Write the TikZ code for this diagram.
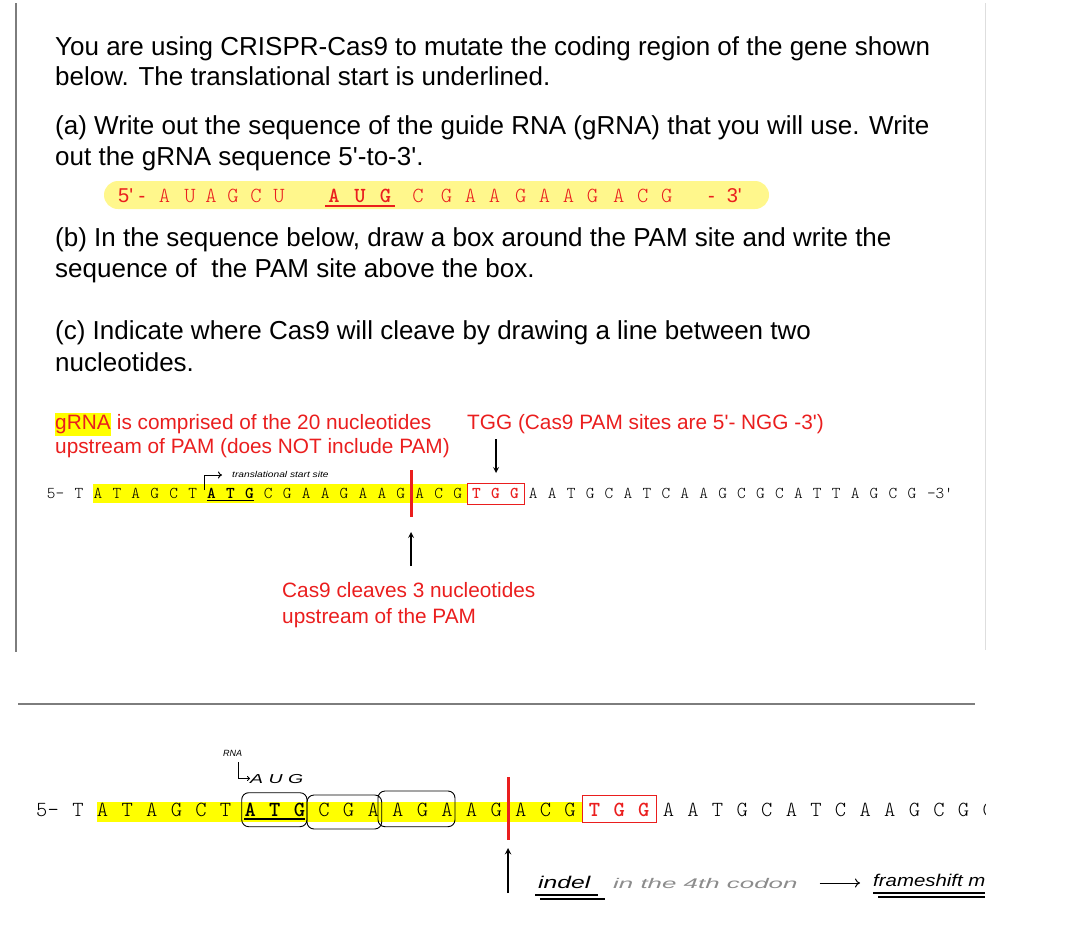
\documentclass[tikz,border=0pt]{standalone}
\usepackage{fontspec}
\setmainfont{Liberation Sans}
\newfontfamily\seqfont{lmmonolt10-regular.otf}[BoldFont=lmmonolt10-bold.otf]
\usetikzlibrary{arrows.meta}
\definecolor{txtred}{RGB}{234,30,30}
\definecolor{hiyel}{RGB}{255,255,0}
\definecolor{pillyel}{RGB}{255,247,140}
\definecolor{framegray}{RGB}{125,125,125}
\definecolor{framelight}{RGB}{222,222,222}
\newcommand\sq{\textquotesingle}
\newcommand\startnt[1]{\textbf{#1}}
\newcommand\pamnt[1]{\textcolor{txtred}{\textbf{#1}}}
\newcommand\wide[2]{\scalebox{#1}[1]{#2}}
\tikzset{
  qline/.style={anchor=base west,inner sep=0,font=\fontsize{26}{30}\selectfont},
  note/.style={anchor=base west,inner sep=0,text=txtred,font=\fontsize{20.8}{24}\selectfont},
  nt/.style={anchor=base,inner sep=0,font=\seqfont\fontsize{16.5}{17}\selectfont},
  ntbig/.style={anchor=base,inner sep=0,font=\seqfont\fontsize{21.5}{22}\selectfont},
  ntpill/.style={anchor=base,inner sep=0,text=txtred,font=\seqfont\fontsize{21.5}{21}\selectfont},
  hand/.style={anchor=base west,inner sep=0,font=\itshape},
  cutline/.style={txtred,line width=3pt},
  codon/.style={draw,rounded corners=7pt,line width=0.9pt},
}
\begin{document}
\begin{tikzpicture}[x=1pt,y=-1pt,>=stealth]
\useasboundingbox (0,0) rectangle (1072,945);
% page frame
\draw[framegray,line width=2pt] (15.7,3) -- (15.7,652);
\draw[framelight,line width=1pt] (985,3) -- (985,650);
\draw[framegray,line width=2pt] (18,704) -- (975,704);

% question
\node[qline] (qa1) at (55,55) {You are using CRISPR-Cas9 to mutate the coding region of the gene shown};
\node[qline] (qa2) at (55,85) {below. The translational start is underlined.};
\node[qline] (qb1) at (55,134) {(a) Write out the sequence of the guide RNA (gRNA) that you will use. Write};
\node[qline] (qb2) at (55,165) {out the gRNA sequence 5\sq-to-3\sq.};
\node[qline] (qc1) at (55,246) {(b) In the sequence below, draw a box around the PAM site and write the};
\node[qline] (qc2) at (55,277) {sequence of \ the PAM site above the box.};
\node[qline] (qd1) at (55,339) {(c) Indicate where Cas9 will cleave by drawing a line between two};
\node[qline] (qd2) at (55,371) {nucleotides.};

% gRNA answer
\fill[pillyel,rounded corners=14pt] (104,181) rectangle (769,209);
\node[note,font=\fontsize{20}{20}\selectfont] (p5) at (118,202) {5\sq\ -};
\foreach \x/\b in {164.5/A,190/U,211/A,233/G,256/C,279/U,334/\startnt A,360/\startnt U,385.5/\startnt G,
                   418/C,446.5/G,470.5/A,494.5/A,520.7/G,544.6/A,568.6/A,592.6/G,618.7/A,642.7/C,666.7/G}
  \node[ntpill] (r\x) at (\x,202) {\b};
\draw[txtred,line width=1.2pt] (325,206) -- (395,206);
\node[note,font=\fontsize{20}{20}\selectfont] (p3) at (708,202) {-\hspace{12pt}3\sq};

% notes
\node[note,fill=hiyel,inner ysep=2pt] (gr) at (55,429.5) {gRNA};
\node[note] (n1) at ([xshift=5.8pt]gr.base east) {is comprised of the 20 nucleotides};
\node[note] (n2) at (55,453.5) {upstream of PAM (does NOT include PAM)};
\node[note] (pam) at (467,429.5) {TGG (Cas9 PAM sites are 5\sq- NGG -3\sq)};
\node[note] (cl1) at (282,597.5) {Cas9 cleaves 3 nucleotides};
\node[note] (cl2) at (282,623.5) {upstream of the PAM};

% sequence with PAM
\fill[hiyel] (93,484) rectangle (467.7,503);
\node[nt] (s5) at (55.5,498) {5-};
\foreach \b [count=\i from 0] in {T,A,T,A,G,C,T,\startnt A,\startnt T,\startnt G,C,G,A,A,G,A,A,G,A,C,G,
    \pamnt T,\pamnt G,\pamnt G,A,A,T,G,C,A,T,C,A,A,G,C,G,C,A,T,T,A,G,C,G}
  \node[nt] (s\i) at ({79+18.93*\i},498) {\b};
\node[nt] (s3) at (940,498) {-3\sq};
\draw[line width=1.1pt] ([yshift=-2.5pt]s7.base west) -- ([yshift=-2.5pt]s9.base east);
\draw[txtred,line width=0.8pt] (467.7,483) rectangle (524,504);
\coordinate (pamtop) at (496,439);
\coordinate (pamlow) at (496,473);
\draw[->,line width=1.6pt] (pamtop) -- (pamlow);
\draw[cutline] (411,470) -- (411,517);
\coordinate (cuttip) at (411,532);
\coordinate (cuttail) at (411,566);
\draw[->,line width=1.6pt] (cuttail) -- (cuttip);
\draw[-{To[length=4pt,width=7pt]},line width=1pt] (204,490) |- (222,475);
\node[hand,font=\itshape\fontsize{8.5}{8.5}\selectfont] (tss) at (232,477) {\wide{1.2}{translational start site}};

% worked answer
\begin{scope}
\clip (0,720) rectangle (985,945);
\fill[hiyel] (96.7,801.7) rectangle (582.5,821.7);
\node[ntbig] (b5) at (47.5,816) {5-};
\foreach \b [count=\i from 0] in {T,A,T,A,G,C,T,\startnt A,\startnt T,\startnt G,C,G,A,A,G,A,A,G,A,C,G,
    \pamnt T,\pamnt G,\pamnt G,A,A,T,G,C,A,T,C,A,A,G,C,G,C}
  \node[ntbig] (b\i) at ({78+24.6*\i},816) {\b};
\draw[line width=1.3pt] ([yshift=-3pt]b7.base west) -- ([yshift=-3pt]b9.base east);
\draw[txtred,line width=0.9pt] (582.5,795) rectangle (656,822);
\draw[codon] (241.7,792.7) rectangle (307,826.7);
\draw[codon] (307,795) rectangle (381.7,829);
\draw[codon] (378,791) rectangle (455,826.7);
\draw[cutline] (508,777) -- (508,840);
\coordinate (btip) at (508,848);
\coordinate (btail) at (508,893);
\draw[->,line width=1.8pt] (btail) -- (btip);
\node[hand,font=\itshape\fontsize{9}{9}\selectfont] (rna) at (223,756) {RNA};
\node[hand,font=\itshape\fontsize{13}{13}\selectfont] (aug) at (250,783) {\wide{1.5}{A U G}};
\draw[-{To[length=3pt,width=5pt]},line width=0.8pt] (238,762) |- (aug.west);
\node[hand,font=\itshape\fontsize{17}{17}\selectfont] (indel) at (538,888) {\wide{1.45}{indel}};
\draw[line width=1.2pt] (535,895) -- (598,895);
\draw[line width=1.2pt] (540,899) -- (605,899);
\node[hand,text=black!45,font=\itshape\fontsize{14}{14}\selectfont] (cod4) at (613,888) {\wide{1.85}{in the 4th codon}};
\node[hand,font=\itshape\fontsize{17}{17}\selectfont] (fs) at (873,886) {\wide{1.2}{frameshift m}};
\draw[-{To[length=5pt,width=9pt]},line width=1pt,shorten <=22pt] (cod4.east) -- ([xshift=-13pt]cod4.east -| fs.west);
\draw[line width=1.2pt] (873,893) -- (985,893);
\draw[line width=1.2pt] (878,897) -- (985,897);
\end{scope}
\end{tikzpicture}
\end{document}
